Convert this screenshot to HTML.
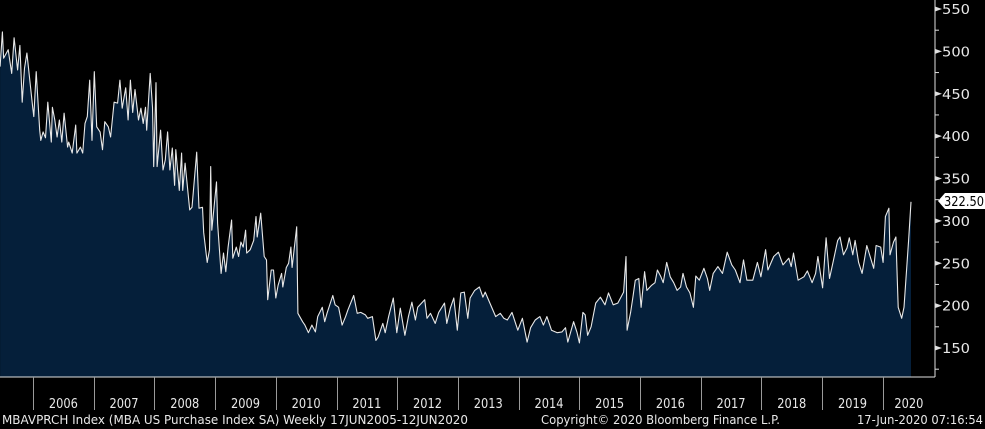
<!DOCTYPE html>
<html><head><meta charset="utf-8"><style>
html,body{margin:0;padding:0;background:#000;}
svg{display:block;font-family:"DejaVu Sans","Liberation Sans",sans-serif;}
</style></head><body>
<svg id="chart" width="985" height="429" viewBox="0 0 985 429" xmlns="http://www.w3.org/2000/svg">
<rect x="0" y="0" width="985" height="429" fill="#000"/>
<g id="plot"></g>
<g id="yaxis"></g>
<g id="xaxis"></g>
<g id="last">
  <path d="M938,201 L945,193 L985,193 L985,209 L945,209 Z" fill="#fff"/>
  <text x="944" y="206" font-size="13" fill="#000" textLength="40" lengthAdjust="spacingAndGlyphs">322.50</text>
</g>
<text x="2" y="424" font-size="12.5" fill="#e8e8e8" textLength="466" lengthAdjust="spacingAndGlyphs">MBAVPRCH Index (MBA US Purchase Index SA)  Weekly 17JUN2005-12JUN2020</text>
<text x="541" y="424" font-size="12.5" fill="#e8e8e8" textLength="239" lengthAdjust="spacingAndGlyphs">Copyright© 2020 Bloomberg Finance L.P.</text>
<text x="983" y="424" font-size="12.5" fill="#e8e8e8" text-anchor="end" textLength="126" lengthAdjust="spacingAndGlyphs">17-Jun-2020 07:16:54</text>
</svg>
<script>
const weeks = [0,2,3,7,10,12,15,17,19,21,23,28,29,31,34,35,37,39,41,44,45,47,49,51,53,55,58,59,62,65,66,69,71,73,75,77,79,81,83,86,88,90,93,95,98,101,103,105,108,110,112,114,116,119,121,123,125,126,129,131,132,134,135,138,140,142,144,146,148,150,151,154,156,157,159,163,165,169,171,174,175,178,180,181,182,186,187,190,192,194,196,199,200,203,205,207,209,211,212,215,218,220,221,224,227,229,230,233,235,237,239,242,243,246,248,250,251,255,256,260,262,265,
268,271,273,277,279,281,286,288,291,294,297,299,304,307,310,314,316,320,323,325,329,331,334,338,341,344,348,351,354,357,359,365,367,370,374,377,382,384,387,390,393,396,399,402,404,408,412,415,417,421,426,430,433,436,440,445,449,453,456,460,464,467,470,474,479,483,486,488,493,496,498,501,503,505,508,512,516,520,523,527,531,536,538,539,542,
544,546,549,551,554,556,560,563,565,568,570,573,576,579,582,585,587,590,593,596,598,601,605,608,610,613,617,621,625,629,632,636,639,642,647,651,654,658,660,665,669,673,678,680,682,686,691,694,698,701,703,707,710,713,716,720,722,725,728,730,733,735,738,741,745,747,751,753,757,759,761,764,765,768,770,772,775,777,781,783];
const values = [482,523,492,502,474,516,478,507,440,480,498,434,423,476,407,395,405,398,440,393,434,419,399,419,393,427,387,393,380,413,380,387,380,415,423,466,395,476,411,405,384,417,411,399,440,439,466,433,457,419,466,428,455,419,433,415,434,407,474,434,364,463,364,407,360,372,405,360,386,342,384,336,380,336,368,313,316,381,315,316,286,251,266,364,289,346,297,238,262,240,269,301,256,269,258,275,269,289,262,266,277,305,281,309,258,254,207,242,242,209,224,238,222,245,250,269,245,293,191,181,177,168,
177,169,187,198,181,191,212,201,198,177,187,195,212,191,192,189,185,187,159,163,179,168,187,209,168,197,165,187,204,183,198,207,185,191,179,192,203,179,197,209,171,215,216,185,209,218,222,210,216,203,187,191,185,183,192,171,185,157,174,183,187,177,187,171,168,169,174,157,181,168,156,192,189,165,175,203,210,201,215,201,203,216,258,171,192,
210,230,232,198,240,218,224,227,242,234,227,251,234,227,218,222,238,222,215,198,235,230,244,232,218,238,246,238,263,248,242,227,254,230,230,251,234,266,242,258,263,248,256,246,262,230,234,241,227,238,258,221,280,232,251,277,281,260,268,280,260,277,251,238,271,262,244,271,269,251,305,315,260,275,281,198,185,198,277,322.5];
const yTicks = [150,200,250,300,350,400,450,500,550];
const yMinor = [125,175,225,275,325,375,425,475,525];
const years = [2006,2007,2008,2009,2010,2011,2012,2013,2014,2015,2016,2017,2018,2019,2020];
const startYear = 2005.458;

const NS = "http://www.w3.org/2000/svg";
const axisX = 935, axisBottom = 377;
function xOfYear(yr){ return 33 + (yr - 2006) * 60.7; }
function xOfWeek(w){ return xOfYear(startYear + w * 7 / 365.25); }
function yOf(v){ return 9 + (550 - v) * 0.8475; }
function mk(tag, attrs, parent){
  const el = document.createElementNS(NS, tag);
  for (const k in attrs) el.setAttribute(k, attrs[k]);
  parent.appendChild(el);
  return el;
}
const plot = document.getElementById('plot');
let d = '';
for (let i = 0; i < values.length; i++) {
  d += (i ? 'L' : 'M') + xOfWeek(weeks[i]).toFixed(1) + ',' + yOf(values[i]).toFixed(1);
}
const lastX = xOfWeek(weeks[weeks.length-1]).toFixed(1), firstX = xOfWeek(weeks[0]).toFixed(1);
const area = mk('path', {d: d + 'L' + lastX + ',' + axisBottom + 'L' + firstX + ',' + axisBottom + 'Z', fill: '#051f3a'}, plot);


const line = mk('path', {d: d, fill: 'none', stroke: '#e8e8e8', 'stroke-width': 1.1, 'stroke-linejoin': 'round'}, plot);



const ya = document.getElementById('yaxis');
const yl = mk('line', {x1: axisX, y1: 0, x2: axisX, y2: axisBottom, stroke: '#e0e0e0', 'stroke-width': 1}, ya);


yTicks.forEach(v => {
  const y = yOf(v);
  const t = mk('path', {d: `M${axisX},${y-2.5} L${axisX+7},${y} L${axisX},${y+2.5} Z`, fill: '#e0e0e0'}, ya);
  
  
  const lb = mk('text', {x: axisX + 7, y: y + 5, 'font-size': 13.5, fill: '#e8e8e8', textLength: 28, lengthAdjust: 'spacingAndGlyphs'}, ya);
  lb.textContent = v;
  
  
});
yMinor.forEach(v => {
  const y = yOf(v);
  const t = mk('line', {x1: axisX, y1: y, x2: axisX + 4, y2: y, stroke: '#e0e0e0', 'stroke-width': 1}, ya);
  
  
});

const xa = document.getElementById('xaxis');
const xl = mk('line', {x1: 0, y1: axisBottom, x2: axisX, y2: axisBottom, stroke: '#e0e0e0', 'stroke-width': 1}, xa);


years.forEach(yr => {
  const x = Math.round(xOfYear(yr)) + 0.5;
  const t = mk('line', {x1: x, y1: axisBottom, x2: x, y2: 410, stroke: '#9a9a9a', 'stroke-width': 1}, xa);
  
  
  const next = yr === 2020 ? axisX : xOfYear(yr + 1);
  const lb = mk('text', {x: (xOfYear(yr) + next) / 2, y: 408, 'font-size': 13.5, fill: '#e8e8e8', 'text-anchor': 'middle', textLength: 29, lengthAdjust: 'spacingAndGlyphs'}, xa);
  lb.textContent = yr;
  
  
});
</script>
</body></html>
